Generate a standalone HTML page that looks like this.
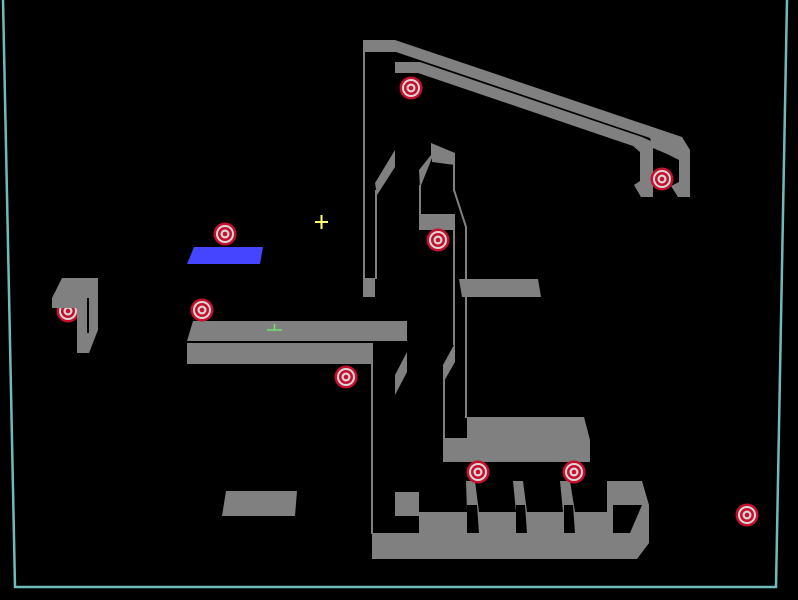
<!DOCTYPE html>
<html><head><meta charset="utf-8"><style>html,body{margin:0;padding:0;background:#000}svg{display:block}</style></head>
<body>
<svg width="798" height="600" viewBox="0 0 798 600" xmlns="http://www.w3.org/2000/svg">
<rect width="798" height="600" fill="#000"/>
<defs>
<g id="t">
<circle r="11.5" fill="#c8102e"/>
<circle r="9" fill="#d8d8d8"/>
<circle r="7" fill="#c8102e"/>
<circle r="4.5" fill="#d8d8d8"/>
<circle r="2.3" fill="#c8102e"/>
</g>
</defs>
<!-- border -->
<polyline points="3,0 15,587 776,587 787,0" fill="none" stroke="#70baba" stroke-width="2.5"/>

<!-- targets under left piece -->
<use href="#t" x="68" y="311"/>

<g fill="#808080">
<!-- top rails -->
<polygon points="363,40 395,40 682,137 690,150 690,197 678,197 671,186 679,182 679,160 667,154 653,148 650,138 396,52 363,52"/>
<polygon points="395,62 420,62 642,137 653,142 653,197 641,197 634,185 640,181 640,152 633,146 418,73 395,73"/>
<!-- left column -->
<rect x="363" y="278" width="12" height="19"/>
<polygon points="395,150 395,167 377,195 375,183"/>
<!-- middle column -->
<polygon points="431,143 455,153 455,165 432,162 432,158 420,188 419,170 431,155"/>
<rect x="419" y="214" width="36" height="16"/>
<polygon points="455,343 455,362 443,383 443,365"/>
<polygon points="467,417 584,417 590,440 590,462 443,462 443,438 467,438"/>
<polygon points="407,352 407,372 395,395 395,375"/>
<!-- platforms -->
<polygon points="193,321 407,321 407,341 194,341 187,341"/>
<rect x="187" y="343" width="184" height="21"/>
<polygon points="459,279 538,279 541,297 462,297"/>
<polygon points="226,491 297,491 295,516 222,516"/>
<!-- left piece -->
<polygon points="62,278 98,278 98,330 89,353 77,353 77,308 52,308 52,298"/>
<!-- bottom structure -->
<polygon points="372,533 649,533 649,543 637,559 372,559"/>
<rect x="419" y="512" width="190" height="22"/>
<rect x="395" y="492" width="24" height="24"/>
<polygon points="466,481 475,481 479,512 467,512"/>
<polygon points="513,481 523,481 527,512 516,512"/>
<polygon points="560,481 570,481 575,512 563,512"/>
<polygon points="607,481 642,481 649,505 649,534 607,534"/>
</g>
<g fill="#000">
<polygon points="467,505 477,505 479,533 467,533"/>
<polygon points="516,505 525,505 527,533 516,533"/>
<polygon points="564,505 573,505 575,533 564,533"/>
<polygon points="613,505 642,505 630,533 613,533"/>
<rect x="87" y="298" width="2" height="35"/>
</g>
<g stroke="#808080" stroke-width="2" fill="none">
<line x1="364" y1="52" x2="364" y2="279"/>
<line x1="376" y1="190" x2="376" y2="279"/>
<line x1="420" y1="185" x2="420" y2="215"/>
<polyline points="454,154 454,190 466,227 466,418"/>
<line x1="454" y1="229" x2="454" y2="345"/>
<line x1="444" y1="380" x2="444" y2="440"/>
<line x1="372" y1="343" x2="372" y2="534"/>
</g>

<rect x="187" y="247" width="0" height="0"/>
<polygon points="194,247 263,247 260,264 187,264" fill="#4545ff"/>

<use href="#t" x="411" y="88"/>
<use href="#t" x="662" y="179"/>
<use href="#t" x="225" y="234"/>
<use href="#t" x="438" y="240"/>
<use href="#t" x="202" y="310"/>
<use href="#t" x="346" y="377"/>
<use href="#t" x="478" y="472"/>
<use href="#t" x="574" y="472"/>
<use href="#t" x="747" y="515"/>

<g stroke="#ffff70" stroke-width="2">
<line x1="315" y1="222" x2="328" y2="222"/>
<line x1="321.5" y1="215" x2="321.5" y2="229"/>
</g>
<g stroke="#70e070" stroke-width="1.5">
<line x1="267" y1="330" x2="282" y2="330"/>
<line x1="274.5" y1="324" x2="274.5" y2="330"/>
</g>
</svg>
</body></html>
